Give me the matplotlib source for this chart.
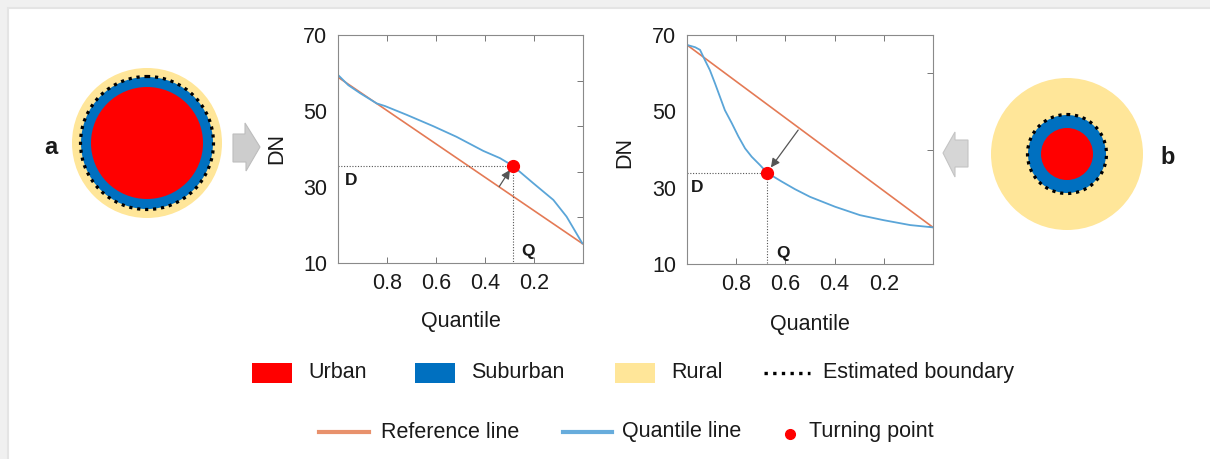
import numpy as np
import matplotlib
matplotlib.use("Agg")
import matplotlib.pyplot as plt
from matplotlib.patches import Circle, Rectangle, Polygon
from matplotlib.lines import Line2D

plt.rcParams["font.family"] = ["Liberation Sans", "DejaVu Sans"]

# ── Data ───────────────────────────────────────────────────────────────────────
# panel a: big urban core, quantile curve bulges above the reference line
QA_X = [1.0, 0.958, 0.91, 0.842, 0.808, 0.72, 0.611, 0.516, 0.407, 0.339,
        0.287, 0.203, 0.121, 0.067, 0.003]
QA_Y = [59.5, 56.8, 54.7, 52.0, 51.3, 49.0, 46.0, 43.2, 39.5, 37.6,
        35.6, 31.0, 26.6, 22.2, 15.2]
REF_A_X = [1.0, 0.0]
REF_A_Y = [58.9, 15.0]
TURN_A = (0.287, 35.6)
ARROW_A = [(0.342, 30.1), (0.298, 34.5)]

# panel b: small urban core, quantile curve sags below the reference line
QB_X = [1.0, 0.967, 0.947, 0.927, 0.907, 0.886, 0.866, 0.846, 0.818, 0.791,
        0.764, 0.737, 0.703, 0.674, 0.615, 0.561, 0.5, 0.398, 0.297, 0.202,
        0.093, 0.001]
QB_Y = [67.4, 66.8, 66.1, 63.4, 60.8, 57.3, 53.8, 50.3, 46.9, 43.4,
        40.3, 38.1, 35.9, 33.9, 31.6, 29.6, 27.6, 25.0, 22.8, 21.5,
        20.2, 19.6]
REF_B_X = [1.0, 0.0]
REF_B_Y = [67.4, 19.6]
TURN_B = (0.674, 33.9)
ARROW_B = [(0.548, 45.1), (0.659, 35.3)]

X_TICKS = [0.8, 0.6, 0.4, 0.2]
Y_TICKS = [10, 30, 50, 70]

LEGEND_PATCHES = ["Urban", "Suburban", "Rural"]
LEGEND_LINES = ["Reference line", "Quantile line", "Turning point"]

# ── Colours ────────────────────────────────────────────────────────────────────
RED = "#ff0000"
BLUE = "#0070c0"
YELLOW = "#ffe699"
ORANGE = "#e47a55"
QBLUE = "#5aa5d8"
TXT = "#1a1a1a"
GREY = "#555555"

W, H = 1210, 459
fig = plt.figure(figsize=(W / 100, H / 100), dpi=100, facecolor="#f0f0f0")

# background / sketch layer in pixel coordinates
bg = fig.add_axes([0, 0, 1, 1])
bg.set_xlim(0, W)
bg.set_ylim(H, 0)
bg.axis("off")
bg.add_patch(Rectangle((8, 8), W, H, facecolor="white", edgecolor="#e4e4e4", lw=1.5))

DOTS = (0, (1, 1.5))


def city(cx, cy, r_rural, r_sub, r_urban):
    bg.add_patch(Circle((cx, cy), r_rural, color=YELLOW, lw=0))
    bg.add_patch(Circle((cx, cy), r_sub, color=BLUE, lw=0))
    bg.add_patch(Circle((cx, cy), r_urban, color=RED, lw=0))
    bg.add_patch(Circle((cx, cy), r_sub + 0.5, fill=False, edgecolor="black",
                        lw=2.3, linestyle=DOTS))


city(147, 143, 75, 66, 56)
city(1067, 154, 76, 39, 26)

bg.text(51, 148, "a", fontsize=17, fontweight="bold", color=TXT, ha="center", va="center")
bg.text(1168, 157, "b", fontsize=17, fontweight="bold", color=TXT, ha="center", va="center")

# grey block arrows
bg.add_patch(Polygon([(233, 134), (245, 134), (245, 123), (260, 147), (246, 171),
                      (246, 162), (233, 162)], closed=True,
                     facecolor="#cdcdcd", edgecolor="#bdbdbd", lw=0.8))
bg.add_patch(Polygon([(943, 153), (955, 132), (955, 140), (968, 140), (968, 167),
                      (955, 167), (955, 177)], closed=True,
                     facecolor="#d6d6d6", edgecolor="#c4c4c4", lw=0.8))

# legend row 1
row1 = 372.7
for lab, col, x0 in zip(LEGEND_PATCHES, [RED, BLUE, YELLOW], [252, 415, 615]):
    bg.add_patch(Rectangle((x0, row1 - 10), 40, 20, color=col, lw=0))
    bg.text(x0 + 56, row1, lab, fontsize=15.5, color=TXT, va="center")
bg.add_line(Line2D([764, 810], [row1, row1], color="black", lw=2.4, linestyle=(0, (1, 1.6))))
bg.text(823, row1, "Estimated boundary", fontsize=15.5, color=TXT, va="center")

# legend row 2
row2 = 432
bg.add_line(Line2D([319, 369], [row2, row2], color="#e8916c", lw=3))
bg.text(381, row2, LEGEND_LINES[0], fontsize=15.5, color=TXT, va="center")
bg.add_line(Line2D([563, 612], [row2, row2], color="#67acdc", lw=3))
bg.text(622, row2, LEGEND_LINES[1], fontsize=15.5, color=TXT, va="center")
bg.plot([790], [row2 + 1.5], "o", color=RED, ms=7)
bg.text(809, row2, LEGEND_LINES[2], fontsize=15.5, color=TXT, va="center")


def panel(rect, qx, qy, rx, ry, turn, arrow, d_pos, q_pos, minor_y, xl_y, yl_x, yl_y):
    ax = fig.add_axes(rect)
    ax.plot(rx, ry, color=ORANGE, lw=1.2)
    ax.plot(qx, qy, color=QBLUE, lw=1.3)
    tx, ty = turn
    ax.plot([1.0, tx], [ty, ty], color=GREY, lw=0.8, linestyle=(0, (1, 1.5)))
    ax.plot([tx, tx], [ty, 10], color=GREY, lw=0.8, linestyle=(0, (1, 1.5)))
    ax.annotate("", xy=arrow[1], xytext=arrow[0],
                arrowprops=dict(arrowstyle="-|>", color=GREY, lw=0.9,
                                mutation_scale=13, shrinkA=0, shrinkB=0))
    ax.plot([tx], [ty], "o", color=RED, ms=8.5, zorder=5)
    ax.text(*d_pos, "D", fontsize=12.5, fontweight="bold", color=TXT, ha="center", va="center")
    ax.text(*q_pos, "Q", fontsize=12.5, fontweight="bold", color=TXT, ha="center", va="center")

    ax.set_xlim(1, 0)
    ax.set_ylim(10, 70)
    ax.set_xticks(X_TICKS)
    ax.set_xticklabels([f"{v:.1f}" for v in X_TICKS])
    ax.set_yticks(Y_TICKS)
    ax.set_yticks(minor_y, minor=True)
    ax.tick_params(axis="x", direction="in", top=True, length=4, width=0.7,
                   color="#777777", labelsize=15.5, labelcolor=TXT, pad=7)
    ax.tick_params(axis="y", which="major", length=0, labelsize=15.5,
                   labelcolor=TXT, pad=8)
    ax.tick_params(axis="y", which="minor", direction="in", left=False, right=True,
                   length=4, width=0.7, color="#777777")
    for s in ax.spines.values():
        s.set_color("#8a8a8a")
        s.set_linewidth(0.8)
    ax.set_xlabel("Quantile", fontsize=15.5, color=TXT)
    ax.xaxis.set_label_coords(0.5, xl_y)
    ax.set_ylabel("DN", fontsize=15.5, color=TXT)
    ax.yaxis.set_label_coords(yl_x, yl_y)
    ax.yaxis.label.set_va("center")
    return ax


panel([338 / W, 1 - 263 / H, 245 / W, 228 / H], QA_X, QA_Y, REF_A_X, REF_A_Y,
      TURN_A, ARROW_A, (0.945, 31.8), (0.224, 13.0), [22, 34, 46, 58],
      -0.21, -0.25, 0.5)
panel([687 / W, 1 - 264 / H, 246 / W, 229 / H], QB_X, QB_Y, REF_B_X, REF_B_Y,
      TURN_B, ARROW_B, (0.958, 30.1), (0.609, 12.8), [20, 30, 40, 50, 60],
      -0.22, -0.253, 0.485)

fig.savefig("out.png", dpi=100, facecolor=fig.get_facecolor())
